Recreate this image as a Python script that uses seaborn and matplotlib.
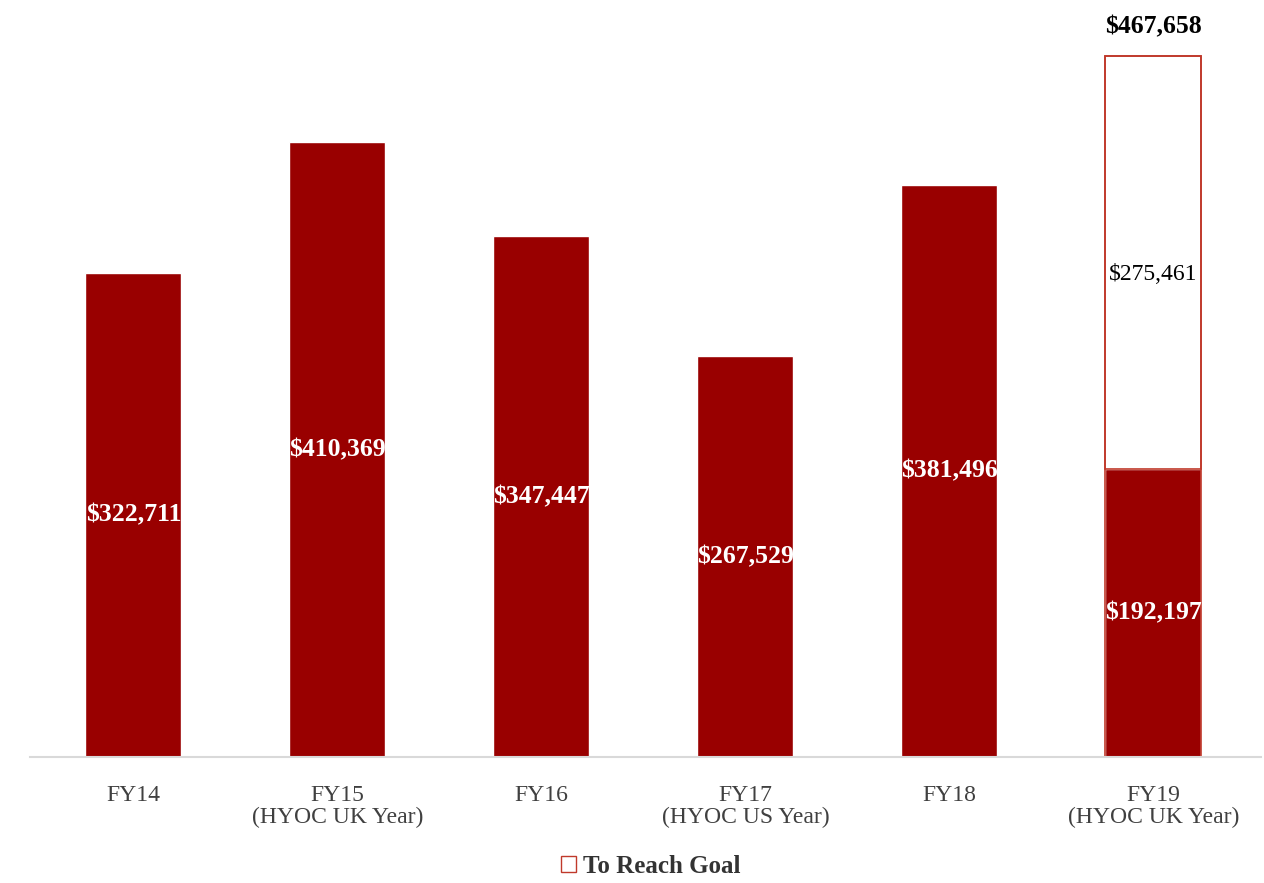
import numpy as np
import pandas as pd
import matplotlib
matplotlib.use("Agg")
import matplotlib.pyplot as plt
import seaborn as sns
from matplotlib.patches import Patch

# donnees
years = ["FY14", "FY15\n(HYOC UK Year)", "FY16", "FY17\n(HYOC US Year)", "FY18", "FY19\n(HYOC UK Year)"]
raised = [322711, 410369, 347447, 267529, 381496, 192197]
to_goal = 275461
goal = 467658

red = "#990000"

sns.set_theme(style="white")
plt.rcParams["font.family"] = ["Liberation Serif", "DejaVu Serif"]

df = pd.DataFrame({"year": years, "raised": raised})

fig = plt.figure(figsize=(12.64, 8.83), dpi=100)
ax = fig.add_axes([0.024, 0.1427, 0.974, 0.815])

sns.barplot(data=df, x="year", y="raised", color=red, saturation=1, width=0.47, ax=ax)

# reste a collecter pour FY19
ax.bar(5, to_goal, bottom=raised[5], width=0.47, color="white", edgecolor="#c0392b", linewidth=1.2)
ax.bar(5, goal, width=0.47, fill=False, edgecolor="#c0392b", linewidth=1.2)

for i, v in enumerate(raised):
    ax.text(i, v / 2, f"${v:,}", ha="center", va="center", color="white",
            fontsize=18.5, fontweight="bold")
ax.text(5, raised[5] + to_goal / 2 - 8000, f"${to_goal:,}", ha="center", va="center",
        color="black", fontsize=17)
ax.text(5, goal + 12000, f"${goal:,}", ha="center", va="bottom", color="black",
        fontsize=18.5, fontweight="bold", clip_on=False)

ax.set_xlim(-0.505, 5.53)
ax.set_ylim(0, 480000)
ax.set_xlabel("")
ax.set_ylabel("")
ax.set_yticks([])
sns.despine(ax=ax, left=True)
ax.spines["bottom"].set_color("#d9d9d9")
ax.spines["bottom"].set_linewidth(1.5)
ax.tick_params(axis="x", length=0, pad=20, labelsize=17, labelcolor="#404040")
for lbl in ax.get_xticklabels():
    lbl.set_linespacing(1.05)

fig.legend(handles=[Patch(facecolor="white", edgecolor="#c0392b", label="To Reach Goal")],
           loc="lower center", bbox_to_anchor=(0.515, -0.02), frameon=False,
           prop={"size": 18, "weight": "bold"}, handlelength=0.6, handleheight=0.6,
           handletextpad=0.3, labelcolor="#333333")

fig.savefig("out.png", dpi=100)
